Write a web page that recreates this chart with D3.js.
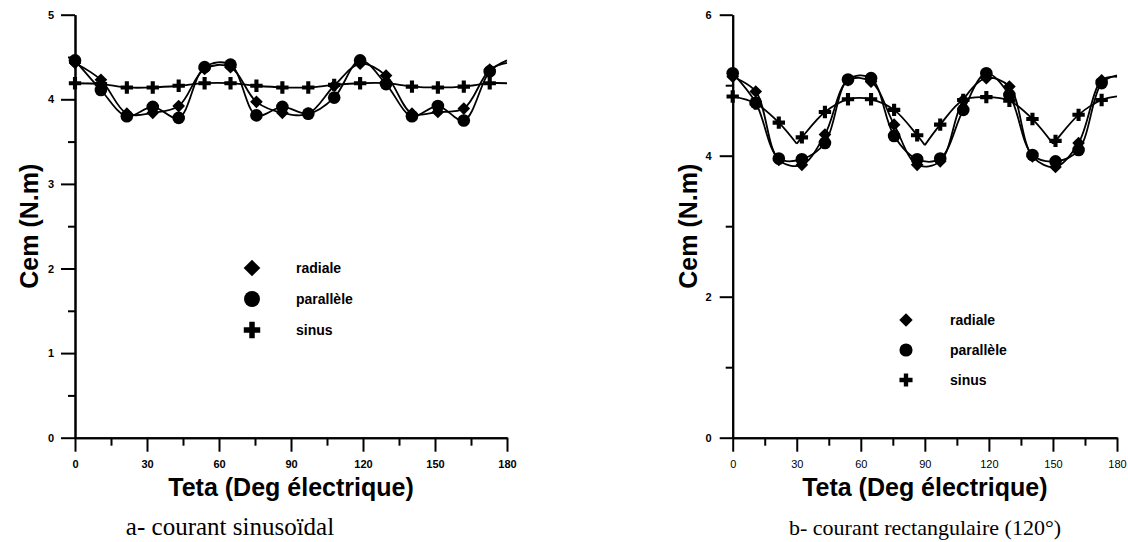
<!DOCTYPE html>
<html>
<head>
<meta charset="utf-8">
<script src="https://cdn.jsdelivr.net/npm/d3@7"></script>
<style>
  body { margin: 0; background: #fff; }
  svg { display: block; }
</style>
</head>
<body>
<svg id="fig" width="1128" height="542"></svg>
<script>
// Electrical angle (deg) of each computed point; the 180° entry closes the period and carries no symbol
const teta = [0, 10.8, 21.6, 32.4, 43.2, 54, 64.8, 75.6, 86.4, 97.2, 108, 118.8, 129.6, 140.4, 151.2, 162, 172.8, 180];

// a- sinusoidal current: electromagnetic torque Cem (N.m)
const radialeA   = [4.43, 4.23, 3.83, 3.84, 3.92, 4.36, 4.38, 3.97, 3.84, 3.83, 4.16, 4.42, 4.28, 3.83, 3.85, 3.89, 4.35, 4.43];
const paralleleA = [4.46, 4.11, 3.80, 3.91, 3.78, 4.38, 4.41, 3.81, 3.91, 3.83, 4.02, 4.46, 4.18, 3.80, 3.92, 3.75, 4.33, 4.46];
const sinusA     = [4.19, 4.18, 4.14, 4.14, 4.16, 4.19, 4.19, 4.16, 4.14, 4.14, 4.17, 4.19, 4.19, 4.15, 4.14, 4.15, 4.19, 4.19];

// b- rectangular (120°) current
const radialeB   = [5.12, 4.91, 3.94, 3.87, 4.30, 5.07, 5.05, 4.44, 3.87, 3.92, 4.79, 5.10, 4.98, 3.99, 3.84, 4.18, 5.07, 5.12];
const paralleleB = [5.17, 4.75, 3.96, 3.95, 4.18, 5.08, 5.10, 4.28, 3.95, 3.96, 4.65, 5.17, 4.86, 4.01, 3.92, 4.08, 5.03, 5.14];
const sinusB     = [4.84, 4.74, 4.47, 4.26, 4.62, 4.80, 4.80, 4.65, 4.29, 4.44, 4.79, 4.83, 4.78, 4.52, 4.21, 4.58, 4.79, 4.84];
// cusps of the sinus curve under rectangular current (sharp minima)
const sinusBCuspTeta  = [30, 90, 150];
const sinusBCuspValue = [4.17, 4.15, 4.17];

// Axis ticks
const xTicks      = [0, 30, 60, 90, 120, 150, 180];
const xMinorTicks = [15, 45, 75, 105, 135, 165];
const yTicksA      = [0, 1, 2, 3, 4, 5];
const yMinorTicksA = [0.5, 1.5, 2.5, 3.5, 4.5];
const yTicksB      = [0, 2, 4, 6];
const yMinorTicksB = [1, 3, 5];

// Labels
const seriesNames = ["radiale", "parallèle", "sinus"];
const xTitle = "Teta (Deg électrique)";
const yTitle = "Cem (N.m)";
const captionA = "a- courant sinusoïdal";
const captionB = "b- courant rectangulaire (120°)";

const SANS = "'Liberation Sans', Arial, Helvetica, sans-serif";
const SERIF = "'Liberation Serif', 'Times New Roman', serif";

const svg = d3.select("#fig");

function pairs(values) { return teta.map((t, i) => [t, values[i]]); }

function symbolPath(kind, size) {
  if (kind === "diamond") return d3.symbol(d3.symbolSquare, size)();
  if (kind === "circle") return d3.symbol(d3.symbolCircle, size)();
  return d3.symbol(d3.symbolCross, size)();
}

function styleAxis(sel, bold) {
  sel.select(".domain").attr("stroke", "#000").attr("stroke-width", 2);
  sel.selectAll(".tick line").attr("stroke", "#000").attr("stroke-width", 2);
  sel.selectAll(".tick text")
    .attr("fill", "#000")
    .style("font-family", SANS)
    .style("font-size", "11px")
    .style("font-weight", bold ? "bold" : "normal");
}

function panel(o) {
  const x = d3.scaleLinear().domain([0, 180]).range([o.left, o.right]);
  const y = d3.scaleLinear().domain([0, o.yMax]).range([o.bottom, o.top]);
  const g = svg.append("g");

  // axes
  g.append("g").attr("transform", `translate(0,${o.bottom})`)
    .call(d3.axisBottom(x).tickValues(xMinorTicks).tickSize(8).tickSizeOuter(0).tickFormat(""))
    .call(s => styleAxis(s, true));
  g.append("g").attr("transform", `translate(0,${o.bottom})`)
    .call(d3.axisBottom(x).tickValues(xTicks).tickSize(14).tickPadding(9).tickSizeOuter(0).tickFormat(d3.format("d")))
    .call(s => styleAxis(s, o.xBold));
  g.append("g").attr("transform", `translate(${o.left},0)`)
    .call(d3.axisLeft(y).tickValues(o.yMinor).tickSize(7).tickSizeOuter(0).tickFormat(""))
    .call(s => styleAxis(s, true));
  g.append("g").attr("transform", `translate(${o.left},0)`)
    .call(d3.axisLeft(y).tickValues(o.yTicks).tickSize(o.yTickLen).tickPadding(o.yPad).tickSizeOuter(0).tickFormat(d3.format("d")))
    .call(s => styleAxis(s, true));

  // axis titles and caption
  g.append("text")
    .attr("x", (o.left + o.right) / 2).attr("y", o.xTitleY)
    .attr("text-anchor", "middle")
    .style("font-family", SANS).style("font-size", "25px").style("font-weight", "bold")
    .text(xTitle);
  g.append("text")
    .attr("transform", `translate(${o.yTitleX},${(o.top + o.bottom) / 2}) rotate(-90)`)
    .attr("text-anchor", "middle").attr("dy", "0.35em")
    .style("font-family", SANS).style("font-size", "25px").style("font-weight", "bold")
    .text(yTitle);
  g.append("text")
    .attr("x", o.captionX).attr("y", o.captionY)
    .attr("text-anchor", "middle")
    .style("font-family", SERIF).style("font-size", o.captionSize + "px")
    .text(o.caption);

  // curves then symbols
  const line = d3.line().x(d => x(d[0])).y(d => y(d[1])).curve(d3.curveCatmullRom.alpha(0.5));
  o.series.forEach(s => {
    s.pieces.forEach(p => {
      g.append("path").attr("d", line(p))
        .attr("fill", "none").attr("stroke", "#000").attr("stroke-width", 1.8);
    });
  });
  o.series.forEach(s => {
    const pts = pairs(s.values).filter(d => d[0] < 180);
    g.append("g").selectAll("path").data(pts).join("path")
      .attr("d", symbolPath(s.kind, s.kind === "diamond" ? 80 : s.kind === "circle" ? 125 : 85))
      .attr("transform", d => `translate(${x(d[0])},${y(d[1])})` + (s.kind === "diamond" ? " rotate(45)" : ""))
      .attr("fill", "#000");
  });

  // legend
  const lg = g.append("g");
  o.series.forEach((s, i) => {
    const ly = o.legendY + i * o.legendStep;
    lg.append("path")
      .attr("d", symbolPath(s.kind, o.legendSizes[s.kind]))
      .attr("transform", `translate(${o.legendX},${ly})` + (s.kind === "diamond" ? " rotate(45)" : ""))
      .attr("fill", "#000");
    lg.append("text")
      .attr("x", o.legendX + 44).attr("y", ly).attr("dy", "0.35em")
      .style("font-family", SANS).style("font-size", "14px").style("font-weight", "bold")
      .text(seriesNames[i]);
  });
}

// Split a curve at its cusps so each arc is smoothed separately
function splitAtCusps(points, cuspT) {
  const out = [];
  let cur = [];
  points.forEach(p => {
    cur.push(p);
    if (cuspT.includes(p[0])) { out.push(cur); cur = [p]; }
  });
  if (cur.length > 1) out.push(cur);
  return out;
}

const sinusBCurve = pairs(sinusB)
  .concat(sinusBCuspTeta.map((t, i) => [t, sinusBCuspValue[i]]))
  .sort((a, b) => a[0] - b[0]);

panel({
  left: 75, right: 507, top: 14.7, bottom: 437.7, yMax: 5,
  yTicks: yTicksA, yMinor: yMinorTicksA, yTickLen: 14, yPad: 7, xBold: true,
  xTitleY: 496, yTitleX: 29, caption: captionA, captionX: 230, captionY: 535, captionSize: 25,
  legendX: 252, legendY: 268, legendStep: 31,
  legendSizes: { diamond: 140, circle: 200, cross: 150 },
  series: [
    { kind: "diamond", values: radialeA,   pieces: [pairs(radialeA)] },
    { kind: "circle",  values: paralleleA, pieces: [pairs(paralleleA)] },
    { kind: "cross",   values: sinusA,     pieces: [pairs(sinusA)] }
  ]
});

panel({
  left: 732.7, right: 1117, top: 14.7, bottom: 437.7, yMax: 6,
  yTicks: yTicksB, yMinor: yMinorTicksB, yTickLen: 13, yPad: 8, xBold: false,
  xTitleY: 496, yTitleX: 688, caption: captionB, captionX: 925, captionY: 535, captionSize: 22,
  legendX: 906, legendY: 320, legendStep: 30,
  legendSizes: { diamond: 90, circle: 135, cross: 95 },
  series: [
    { kind: "diamond", values: radialeB,   pieces: [pairs(radialeB)] },
    { kind: "circle",  values: paralleleB, pieces: [pairs(paralleleB)] },
    { kind: "cross",   values: sinusB,     pieces: splitAtCusps(sinusBCurve, sinusBCuspTeta) }
  ]
});
</script>
</body>
</html>
